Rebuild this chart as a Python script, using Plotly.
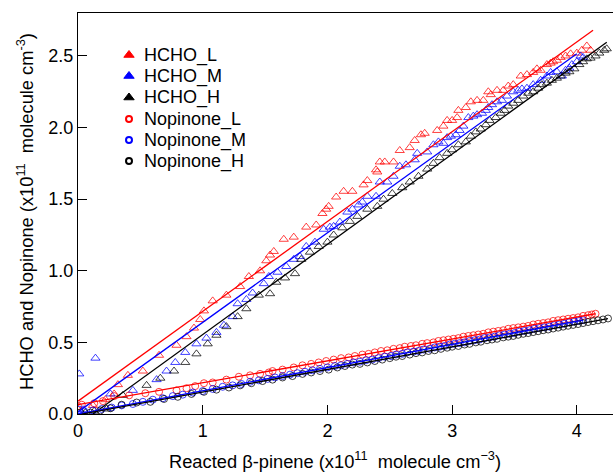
import numpy as np
import plotly.graph_objects as go

# ---------------- data ----------------
hcho_l_x = [0.12,0.22,0.29,0.32,0.40,0.52,0.65,0.79,0.87,0.93,0.98,1.01,1.08,1.19,1.30,1.37,1.46,1.51,1.54,1.57,
            1.65,1.73,1.83,1.91,1.96,1.99,2.01,2.07,2.13,2.20,2.29,2.32,2.39,2.40,2.42,2.46,2.53,2.58,2.66,2.70,
            2.75,2.78,2.88,2.93,2.96,3.00,3.04,3.05,3.11,3.15,3.20,3.25,3.29,3.31,3.36,3.41,3.45,3.49,3.55,3.60,
            3.65,3.68,3.71,3.76,3.79,3.81,3.84,3.87,3.91,3.95,4.00,4.04,4.08,4.11]
hcho_l_y = [0.06,0.10,0.14,0.205,0.27,0.30,0.41,0.48,0.54,0.60,0.66,0.72,0.79,0.83,0.89,0.96,1.00,1.07,1.11,1.135,
            1.22,1.235,1.305,1.32,1.40,1.43,1.45,1.515,1.555,1.555,1.60,1.63,1.705,1.69,1.76,1.76,1.76,1.84,1.86,1.91,
            1.95,1.96,1.98,2.01,2.05,2.05,2.07,2.12,2.14,2.18,2.19,2.19,2.25,2.23,2.26,2.26,2.29,2.30,2.36,2.37,
            2.385,2.41,2.40,2.44,2.45,2.46,2.47,2.49,2.50,2.515,2.52,2.54,2.57,2.54]

hcho_m_x = [0.01,0.14,0.04,0.26,0.44,0.63,0.71,0.78,0.86,0.95,1.03,1.11,1.17,1.24,1.28,1.35,1.40,1.49,1.53,1.60,
            1.67,1.73,1.78,1.83,1.90,1.97,2.02,2.05,2.10,2.16,2.20,2.25,2.28,2.32,2.39,2.42,2.48,2.53,2.58,2.63,
            2.70,2.72,2.80,2.85,2.89,2.93,2.96,2.99,3.03,3.06,3.09,3.13,3.17,3.20,3.24,3.27,3.29,3.32,3.36,3.40,
            3.44,3.49,3.53,3.56,3.60,3.65,3.71,3.76,3.79,3.84,3.88,3.91,3.94,3.96,4.00,4.03,4.05]
hcho_m_y = [0.28,0.39,0.03,0.14,0.165,0.24,0.30,0.36,0.43,0.49,0.53,0.57,0.62,0.68,0.77,0.80,0.845,0.91,0.96,0.99,
            1.03,1.08,1.10,1.17,1.20,1.29,1.305,1.31,1.34,1.41,1.43,1.46,1.48,1.52,1.52,1.62,1.62,1.66,1.73,1.74,
            1.775,1.82,1.83,1.88,1.90,1.89,1.93,1.94,1.95,1.98,2.01,2.07,2.08,2.09,2.10,2.12,2.14,2.16,2.18,2.19,
            2.22,2.25,2.26,2.27,2.275,2.30,2.33,2.36,2.385,2.39,2.36,2.40,2.415,2.44,2.46,2.50,2.49]

hcho_h_x = [0.06,0.13,0.23,0.36,0.55,0.66,0.77,0.86,0.95,1.04,1.11,1.19,1.28,1.35,1.45,1.54,1.59,1.66,1.74,1.79,
            1.86,1.93,2.00,2.05,2.12,2.18,2.24,2.32,2.40,2.45,2.52,2.60,2.66,2.73,2.80,2.85,2.90,2.96,3.00,3.05,
            3.11,3.15,3.19,3.23,3.27,3.30,3.35,3.39,3.42,3.45,3.49,3.53,3.57,3.61,3.65,3.69,3.72,3.76,3.80,3.84,
            3.87,3.91,3.94,3.98,4.02,4.05,4.08,4.11,4.15,4.18,4.22,4.24]
hcho_h_y = [0.01,0.02,0.035,0.13,0.20,0.25,0.30,0.36,0.42,0.49,0.55,0.61,0.68,0.735,0.83,0.84,0.92,0.95,0.98,1.08,
            1.13,1.17,1.20,1.25,1.30,1.345,1.38,1.43,1.45,1.50,1.54,1.58,1.62,1.66,1.71,1.75,1.79,1.82,1.845,1.88,
            1.90,1.94,1.97,1.99,2.02,2.05,2.07,2.10,2.12,2.15,2.17,2.19,2.22,2.24,2.25,2.275,2.30,2.31,2.33,2.345,
            2.36,2.38,2.39,2.41,2.44,2.46,2.48,2.485,2.50,2.52,2.54,2.55]

nop_l_x = [0.00,0.03,0.13,0.20,0.29,0.41,0.54,0.65,0.79,0.87,0.94,1.01,1.08,1.19,1.29,1.38,1.46,1.53,1.56,1.64,
           1.73,1.80,1.87,1.93,1.99,2.05,2.11,2.17,2.22,2.28,2.33,2.38,2.43,2.48,2.53,2.58,2.62,2.67,2.71,2.76,
           2.80,2.85,2.89,2.93,2.97,3.01,3.05,3.09,3.13,3.17,3.21,3.25,3.29,3.33,3.37,3.41,3.45,3.49,3.53,3.57,
           3.61,3.65,3.69,3.73,3.77,3.81,3.85,3.89,3.93,3.97,4.01,4.05,4.09,4.12,4.15]
nop_l_y = [0.055,0.065,0.075,0.09,0.125,0.13,0.145,0.155,0.165,0.18,0.195,0.215,0.22,0.24,0.26,0.27,0.28,0.29,0.30,0.31,
           0.325,0.34,0.35,0.36,0.37,0.38,0.39,0.395,0.405,0.415,0.42,0.43,0.44,0.445,0.455,0.46,0.47,0.475,0.48,0.49,
           0.495,0.50,0.51,0.515,0.52,0.525,0.53,0.54,0.545,0.55,0.555,0.56,0.57,0.575,0.58,0.585,0.595,0.60,0.605,0.61,
           0.615,0.625,0.63,0.635,0.64,0.65,0.655,0.66,0.665,0.67,0.675,0.685,0.69,0.695,0.70]

nop_m_x = [0.01,0.05,0.12,0.19,0.27,0.35,0.44,0.52,0.60,0.68,0.76,0.84,0.92,1.00,1.08,1.16,1.24,1.31,1.38,1.45,
           1.52,1.58,1.64,1.70,1.76,1.82,1.88,1.94,2.00,2.06,2.11,2.16,2.21,2.26,2.31,2.36,2.41,2.46,2.51,2.55,
           2.60,2.64,2.69,2.73,2.77,2.82,2.86,2.90,2.94,2.98,3.02,3.06,3.10,3.14,3.18,3.22,3.26,3.30,3.34,3.38,
           3.42,3.46,3.50,3.54,3.58,3.62,3.66,3.70,3.74,3.78,3.82,3.86,3.90,3.94,3.98,4.02,4.05]
nop_m_y = [0.03,0.02,0.025,0.035,0.045,0.06,0.07,0.085,0.10,0.11,0.125,0.135,0.15,0.16,0.175,0.19,0.20,0.21,0.225,0.235,
           0.245,0.255,0.265,0.275,0.285,0.295,0.305,0.315,0.325,0.335,0.34,0.35,0.36,0.365,0.375,0.38,0.39,0.40,0.405,0.415,
           0.42,0.43,0.435,0.44,0.45,0.455,0.465,0.47,0.475,0.485,0.49,0.495,0.50,0.51,0.515,0.52,0.53,0.535,0.54,0.55,
           0.555,0.56,0.565,0.575,0.58,0.585,0.595,0.60,0.605,0.61,0.62,0.625,0.63,0.64,0.645,0.65,0.655]

nop_h_x = [0.02,0.10,0.18,0.26,0.35,0.47,0.58,0.69,0.80,0.91,1.01,1.11,1.21,1.30,1.39,1.48,1.56,1.64,1.72,1.80,
           1.87,1.94,2.01,2.08,2.14,2.20,2.26,2.32,2.38,2.44,2.50,2.55,2.60,2.66,2.71,2.76,2.81,2.86,2.91,2.96,
           3.00,3.05,3.10,3.14,3.19,3.23,3.28,3.32,3.36,3.41,3.45,3.49,3.53,3.57,3.61,3.65,3.69,3.73,3.77,3.81,
           3.85,3.89,3.93,3.97,4.01,4.05,4.09,4.13,4.17,4.21,4.25]
nop_h_y = [0.01,0.01,0.025,0.04,0.065,0.08,0.085,0.105,0.12,0.14,0.155,0.17,0.185,0.20,0.215,0.23,0.24,0.255,0.265,0.28,
           0.29,0.30,0.31,0.325,0.335,0.345,0.35,0.36,0.37,0.38,0.39,0.40,0.405,0.415,0.425,0.43,0.44,0.445,0.455,0.463,
           0.47,0.475,0.485,0.49,0.50,0.505,0.515,0.52,0.525,0.535,0.54,0.545,0.553,0.56,0.565,0.572,0.578,0.585,0.59,0.597,
           0.603,0.61,0.616,0.622,0.628,0.635,0.642,0.648,0.654,0.66,0.667]

series_names = ["HCHO_L", "HCHO_M", "HCHO_H", "Nopinone_L", "Nopinone_M", "Nopinone_H"]
# linear fits (slope, intercept, x-range)
fit_slope = [0.627, 0.625, 0.630, 0.153, 0.162, 0.158]
fit_intercept = [0.09, 0.015, -0.075, 0.065, 0.0, -0.005]
fit_xmin = [0.0, 0.0, 0.12, 0.0, 0.0, 0.03]
fit_xmax = [4.13, 4.00, 4.24, 4.15, 4.05, 4.25]

x_ticks = [0, 1, 2, 3, 4]
y_ticks = [0.0, 0.5, 1.0, 1.5, 2.0, 2.5]

# ---------------- layout constants (pixels) ----------------
W, H = 613, 475
L, R, T, B = 78, 0, 13, 61
PX0, PX1 = L, W - R
PY0, PY1 = H - B, T          # bottom, top


def paper_x(px):
    return (px - PX0) / (PX1 - PX0)


def paper_y(py):
    return (PY0 - py) / (PY0 - PY1)


colors = ["#ff0000", "#0000ff", "#000000", "#ff0000", "#0000ff", "#000000"]
xs = [hcho_l_x, hcho_m_x, hcho_h_x, nop_l_x, nop_m_x, nop_h_x]
ys = [hcho_l_y, hcho_m_y, hcho_h_y, nop_l_y, nop_m_y, nop_h_y]

FONT = "Arial, 'Liberation Sans', sans-serif"
fig = go.Figure()

for i in range(6):
    is_tri = i < 3
    fig.add_trace(go.Scatter(
        x=xs[i], y=ys[i], mode="markers", showlegend=False,
        marker=dict(symbol="triangle-up-open" if is_tri else "circle-open",
                    size=8 if is_tri else 7, color=colors[i], opacity=0.75,
                    line=dict(width=1, color=colors[i])),
    ))

for i in range(6):
    lx = np.array([fit_xmin[i], fit_xmax[i]])
    fig.add_trace(go.Scatter(
        x=lx, y=fit_slope[i] * lx + fit_intercept[i], mode="lines", showlegend=False,
        line=dict(color=colors[i], width=1.3),
    ))

# ---- legend drawn on a hidden pixel-space overlay axis ----
leg_sym_x = 129
leg_text_x = 142
leg_row_y = [55, 76, 97.5, 119, 140, 161]
fig.add_trace(go.Scatter(
    x=[leg_sym_x] * 6, y=leg_row_y, mode="markers", showlegend=False,
    xaxis="x2", yaxis="y2", hoverinfo="skip",
    marker=dict(symbol=["triangle-up"] * 3 + ["circle-open"] * 3,
                size=[9, 9, 9, 6, 6, 6], color=colors, opacity=1,
                line=dict(width=[1, 1, 1, 2, 2, 2], color=colors)),
))
annotations = []
for i in range(6):
    annotations.append(dict(x=leg_text_x, y=leg_row_y[i], xref="x2", yref="y2",
                            text=series_names[i], showarrow=False, xanchor="left", yanchor="middle",
                            font=dict(size=18, family=FONT, color="black")))

# axis titles
annotations.append(dict(x=paper_x(335), y=paper_y(460), xref="paper", yref="paper",
                        text="Reacted β-pinene (x10<sup>11</sup>  molecule cm<sup>−3</sup>)",
                        showarrow=False, xanchor="center", yanchor="middle",
                        font=dict(size=18.3, family=FONT, color="black")))
annotations.append(dict(x=paper_x(25), y=paper_y(212), xref="paper", yref="paper",
                        text="HCHO and Nopinone (x10<sup>11</sup>  molecule cm<sup>-3</sup>)",
                        textangle=-90, showarrow=False, xanchor="center", yanchor="middle",
                        font=dict(size=18.3, family=FONT, color="black")))

fig.update_layout(
    width=W, height=H,
    margin=dict(l=L, r=R, t=T, b=B),
    paper_bgcolor="white", plot_bgcolor="white",
    font=dict(family=FONT, size=18, color="black"),
    showlegend=False,
    annotations=annotations,
    xaxis=dict(range=[0, 4.29], tickvals=x_ticks, ticktext=[str(v) for v in x_ticks],
               ticks="inside", ticklen=9, tickcolor="black", tickwidth=1,
               showline=True, linecolor="black", linewidth=1, mirror=True,
               showgrid=False, zeroline=False, tickfont=dict(size=18)),
    yaxis=dict(range=[0, 2.8], tickvals=y_ticks, ticktext=[f"{v:.1f}" for v in y_ticks],
               ticks="inside", ticklen=9, tickcolor="black", tickwidth=1,
               showline=True, linecolor="black", linewidth=1, mirror=False,
               showgrid=False, zeroline=False, tickfont=dict(size=18)),
    xaxis2=dict(range=[PX0, PX1], overlaying="x", visible=False, fixedrange=True),
    yaxis2=dict(range=[PY0, PY1], overlaying="y", visible=False, fixedrange=True),
)

fig.write_html("out.html")
